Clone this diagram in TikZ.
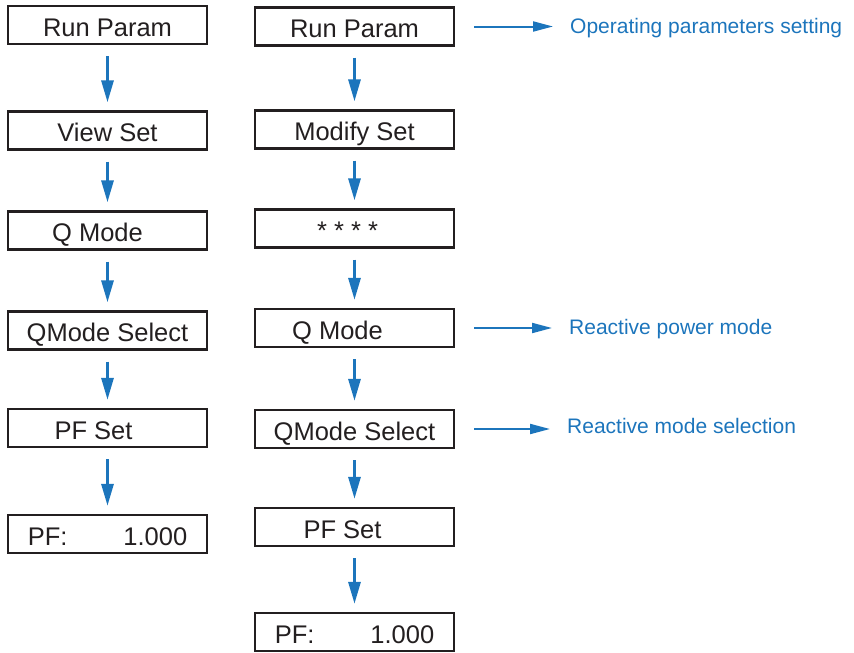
\documentclass[tikz,border=0pt]{standalone}
\usepackage{fontspec}
\setmainfont{Liberation Sans}
\usetikzlibrary{arrows.meta}
\definecolor{Ink}{HTML}{231F20}
\definecolor{NoteBlue}{HTML}{1C75BC}

\begin{document}
\begin{tikzpicture}[x=1pt,y=-1pt,
  menubox/.style={draw=Ink,line width=2.3pt,minimum width=199pt,minimum height=38pt,inner sep=0pt,text=Ink,font=\fontsize{25.5}{30}\selectfont,text height=22pt,text depth=0pt},
  flowarrow/.style={draw=NoteBlue,line width=3pt,-{Triangle[length=22pt,width=12pt]},shorten <=11pt,shorten >=8pt},
  notearrow/.style={draw=NoteBlue,line width=2pt,-{Triangle[length=20pt,width=10pt]},shorten <=19pt,shorten >=17pt},
  notetext/.style={anchor=base west,inner sep=0pt,text=NoteBlue,font=\fontsize{21}{25}\selectfont}]
  \useasboundingbox (0,0) rectangle (854,653);

  \node[menubox] (L1) at (107.5,25) {Run Param};
  \node[menubox] (L2) at (107.5,130.5) {View Set};
  \node[menubox] (L3) at (107.5,230.5) {Q Mode\kern20pt};
  \node[menubox] (L4) at (107.5,330.5) {QMode Select};
  \node[menubox] (L5) at (107.5,428) {PF Set\kern28pt};
  \node[menubox] (L6) at (107.5,534) {PF:\hspace{56pt}1.000};
  \foreach \a/\b in {L1/L2,L2/L3,L3/L4,L4/L5,L5/L6}
    \draw[flowarrow] (\a.south) -- (\b.north);

  \node[menubox] (R1) at (354.5,26.5) {Run Param};
  \node[menubox] (R2) at (354.5,129.5) {Modify Set};
  \node[menubox] (R3) at (354.5,228.5) {* * * *\kern14pt};
  \node[menubox] (R4) at (354.5,328) {Q Mode\kern34pt};
  \node[menubox] (R5) at (354.5,429) {QMode Select};
  \node[menubox] (R6) at (354.5,527) {PF Set\kern24pt};
  \node[menubox] (R7) at (354.5,632) {PF:\hspace{56pt}1.000};
  \foreach \a/\b in {R1/R2,R2/R3,R3/R4,R4/R5,R5/R6,R6/R7}
    \draw[flowarrow] (\a.south) -- (\b.north);

  \node[notetext] (N1) at (570,33) {Operating parameters setting};
  \node[notetext] (N2) at (569,334) {Reactive power mode};
  \node[notetext] (N3) at (567,433) {Reactive mode selection};
  \draw[notearrow] (R1.east) -- (R1.east -| N1.west);
  \draw[notearrow] (R4.east) -- (R4.east -| N2.west);
  \draw[notearrow] (R5.east) -- (R5.east -| N3.west);
\end{tikzpicture}
\end{document}
